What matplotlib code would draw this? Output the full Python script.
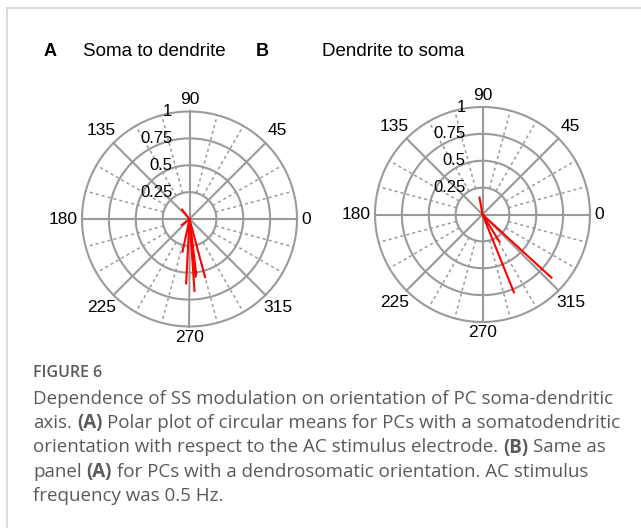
import matplotlib
matplotlib.use('Agg')
import matplotlib.pyplot as plt
import numpy as np
from matplotlib.transforms import offset_copy
from matplotlib.lines import Line2D

# ---------------- data ----------------
panel_titles = ["Soma to dendrite", "Dendrite to soma"]
panel_letters = ["A", "B"]
a_theta_deg = [128, 218, 258, 267, 274, 276, 277, 285]
a_r = [0.11, 0.09, 0.31, 0.60, 0.67, 0.54, 0.52, 0.56]
b_theta_deg = [100, 292, 302, 317.5]
b_r = [0.16, 0.78, 0.30, 0.87]
r_ticks = [0.25, 0.5, 0.75, 1.0]
r_tick_labels = ["0.25", "0.5", "0.75", "1"]
angle_ticks = [0, 45, 90, 135, 180, 225, 270, 315]
caption_title = "FIGURE 6"
caption_lines = [
    [("Dependence of SS modulation on orientation of PC soma-dendritic", False, False)],
    [("axis.", False, False), ("(A)", True, True), ("Polar plot of circular means for PCs with a somatodendritic", False, True)],
    [("orientation with respect to the AC stimulus electrode.", False, False), ("(B)", True, True), ("Same as", False, True)],
    [("panel", False, False), ("(A)", True, True), ("for PCs with a dendrosomatic orientation. AC stimulus", False, True)],
    [("frequency was 0.5 Hz.", False, False)],
]

W, H = 641, 528
fig = plt.figure(figsize=(W / 100, H / 100), dpi=100)
fig.patch.set_facecolor('white')

GRAY = '#9a9a9a'
TICKFONT = ['Liberation Sans', 'DejaVu Sans']
R = 107.5


def polar_panel(cx, cy, thetas, rs):
    ax = fig.add_axes([(cx - R) / W, 1 - (cy + R) / H, 2 * R / W, 2 * R / H],
                      projection='polar')
    ax.set_ylim(0, 1)
    ax.grid(False)
    ax.set_xticks([])
    ax.set_yticks([])
    ax.spines['polar'].set_visible(False)
    ax.patch.set_alpha(0)
    tt = np.linspace(0, 2 * np.pi, 400)
    for r in r_ticks:
        ax.plot(tt, np.full_like(tt, r), color=GRAY, lw=1.5, clip_on=False, zorder=1)
    for d in range(0, 360, 15):
        th = np.deg2rad(d)
        if d % 45 == 0:
            ax.plot([th, th], [0, 1], color=GRAY, lw=1.5, clip_on=False, zorder=1)
        else:
            ax.plot([th, th], [0.25, 1], color=GRAY, lw=1.1, ls=(0, (2, 2)),
                    clip_on=False, zorder=1)
    for th, r in zip(thetas, rs):
        ax.plot([0, np.deg2rad(th)], [0, r], color='red', lw=1.5, zorder=3,
                clip_on=False)
    # radial labels
    trans = offset_copy(ax.transData, fig=fig, x=-17, y=0, units='dots')
    for r, lab in zip(r_ticks, r_tick_labels):
        ax.text(np.pi / 2, r, lab, transform=trans, ha='right', va='center',
                fontsize=12, family=TICKFONT, color='black', zorder=4)
    # angle labels
    pos = {0: (1.04, 'left', 'center'), 90: (1.04, 'center', 'bottom'),
           180: (1.04, 'right', 'center'), 270: (1.03, 'center', 'top')}
    for d in angle_ticks:
        if d in pos:
            rr, ha, va = pos[d]
        else:
            rr, ha, va = 1.16, 'center', 'center'
        ax.text(np.deg2rad(d), rr, str(d), ha=ha, va=va, fontsize=12.5,
                family=TICKFONT, color='black')
    return ax


polar_panel(189.5, 219, a_theta_deg, a_r)
polar_panel(482.5, 214.5, b_theta_deg, b_r)

# titles
fig.text(50 / W, 1 - 52 / H, panel_letters[0], ha='center', va='center',
         fontsize=13, weight='bold', family=TICKFONT)
fig.text(154 / W, 1 - 51 / H, panel_titles[0], ha='center', va='center',
         fontsize=13.5, family=TICKFONT)
fig.text(262 / W, 1 - 52 / H, panel_letters[1], ha='center', va='center',
         fontsize=13, weight='bold', family=TICKFONT)
fig.text(393 / W, 1 - 51 / H, panel_titles[1], ha='center', va='center',
         fontsize=13.5, family=TICKFONT)

# frame lines (left and top)
fig.add_artist(Line2D([7 / W, 7 / W], [0, 1 - 8 / H], color='#d4d4d4', lw=1.2,
                      transform=fig.transFigure))
fig.add_artist(Line2D([7 / W, 1], [1 - 8 / H, 1 - 8 / H], color='#d4d4d4', lw=1.2,
                      transform=fig.transFigure))

# caption
CAPFONT = ['Open Sans', 'DejaVu Sans']
CAPCOL = '#5a5a5a'
renderer = fig.canvas.get_renderer()


def tw(s, **kw):
    t = fig.text(0, 0, s, **kw)
    w = t.get_window_extent(renderer).width
    t.remove()
    return w


base = dict(family=CAPFONT, fontsize=10)
w10 = tw(caption_lines[0][0][0], **base)
fs = 10 * 582 / w10
fig.text(33 / W, 1 - 373 / H, caption_title, ha='left', va='center',
         fontsize=fs * 0.85, weight='semibold', family=CAPFONT, color=CAPCOL)
line_y = [399, 423, 447.5, 472, 496]
for segs, y in zip(caption_lines, line_y):
    x = 33.0
    for txt, bold, space_before in segs:
        kw = dict(family=CAPFONT, fontsize=fs, weight='bold' if bold else 'normal')
        if space_before:
            x += tw('x x', **kw) - tw('xx', **kw)
        fig.text(x / W, 1 - y / H, txt, ha='left', va='center', color=CAPCOL, **kw)
        x += tw(txt, **kw)

fig.savefig('out.png', dpi=100, facecolor='white')
